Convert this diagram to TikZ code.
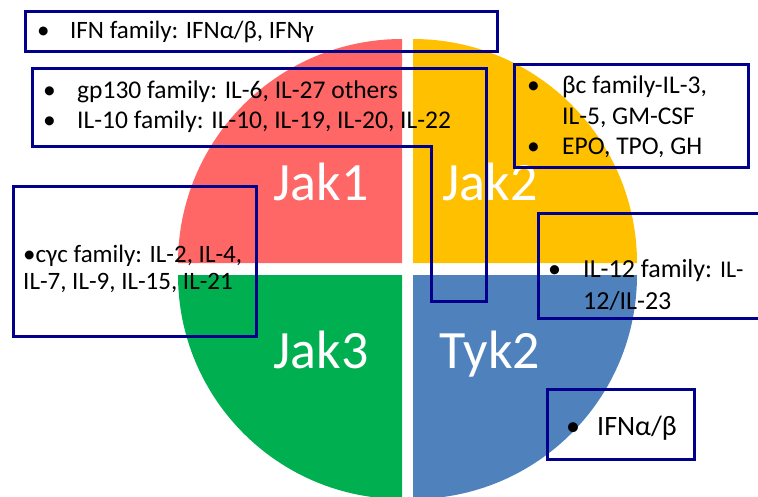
\documentclass[tikz,border=0pt]{standalone}
\usepackage{fontspec}
\setmainfont{Carlito}
\definecolor{jakred}{RGB}{255,102,102}
\definecolor{jakyellow}{RGB}{255,192,0}
\definecolor{jakgreen}{RGB}{0,176,80}
\definecolor{jakblue}{RGB}{79,129,189}
\definecolor{boxblue}{RGB}{0,0,140}
\newcommand{\punto}[1][34pt]{\makebox[#1][l]{•}}
\newcommand{\corpo}[1]{\fontsize{#1}{#1}\selectfont}

\begin{document}
\begin{tikzpicture}[x=1pt,y=-1pt,
    famiglia/.style={draw=boxblue, line width=3pt},
    jak/.style={text=white, anchor=base, inner sep=0pt, font=\corpo{54}},
    voce/.style={anchor=base west, inner sep=0pt, font=\corpo{25.5}}]
        \useasboundingbox (0,0) rectangle (758,496);

        % Disegna i quattro spicchi
        \fill[jakred] (402,263) -- ++(-224,0) arc[start angle=180, end angle=270, radius=224] -- cycle; % Jak1
        \fill[jakyellow] (413,263) -- ++(0,-224) arc[start angle=270, end angle=360, radius=224] -- cycle; % Jak2
        \fill[jakgreen] (402,275) -- ++(-224,0) arc[start angle=180, end angle=90, radius=224] -- cycle; % Jak3
        \fill[jakblue] (413,275) -- ++(224,0) arc[start angle=0, end angle=90, radius=224] -- cycle; % Tyk2

        \node[jak] (jak1) at (321,200) {Jak1};
        \node[jak] (jak2) at (490,200) {Jak2};
        \node[jak] (jak3) at (321,368) {Jak3};
        \node[jak] (tyk2) at (490,368) {Tyk2};

        % Riquadri delle famiglie
        \draw[famiglia] (25,11) rectangle (497,51);
        \draw[famiglia] (32,68) -- (486,68) -- (486,301) -- (431,301) -- (431,146) -- (32,146) -- cycle;
        \draw[famiglia] (514,64) rectangle (748,167);
        \draw[famiglia] (13,186) rectangle (256,336);
        \draw[famiglia] (775,213) -- (538,213) -- (538,318) -- (775,318); % Aperto a destra
        \draw[famiglia] (547,389) rectangle (694,459);

        % Testi
        \node[voce, font=\corpo{25}] (ifn) at (37,38) {\punto[33pt]IFN family: IFNα/β, IFNγ};
        \node[voce] (gp130) at (43,98) {\punto gp130 family: IL-6, IL-27 others};
        \node[voce] (il10) at (43,128) {\punto IL-10 family: IL-10, IL-19, IL-20, IL-22};
        \node[voce] (betac) at (527,93) {\punto[35pt]βc family-IL-3,};
        \node[voce] (gmcsf) at (562,124) {IL-5, GM-CSF};
        \node[voce] (epo) at (527,154) {\punto[35pt]EPO, TPO, GH};
        \node[voce, font=\corpo{25}] (gammac) at (23,262) {•cγc family: IL-2, IL-4,};
        \node[voce, font=\corpo{25}] (il7) at (23,289) {IL-7, IL-9, IL-15, IL-21};
        \node[voce, font=\corpo{26}] (il12) at (548,277) {\punto[35pt]IL-12 family: {\corpo{24}IL-}};
        \node[voce, font=\corpo{26}] (il23) at (583,309) {12/IL-23};
        \node[voce, font=\corpo{28}] (ifnab) at (566,435) {\punto[31pt]IFNα/β};
    \end{tikzpicture}
\end{document}
